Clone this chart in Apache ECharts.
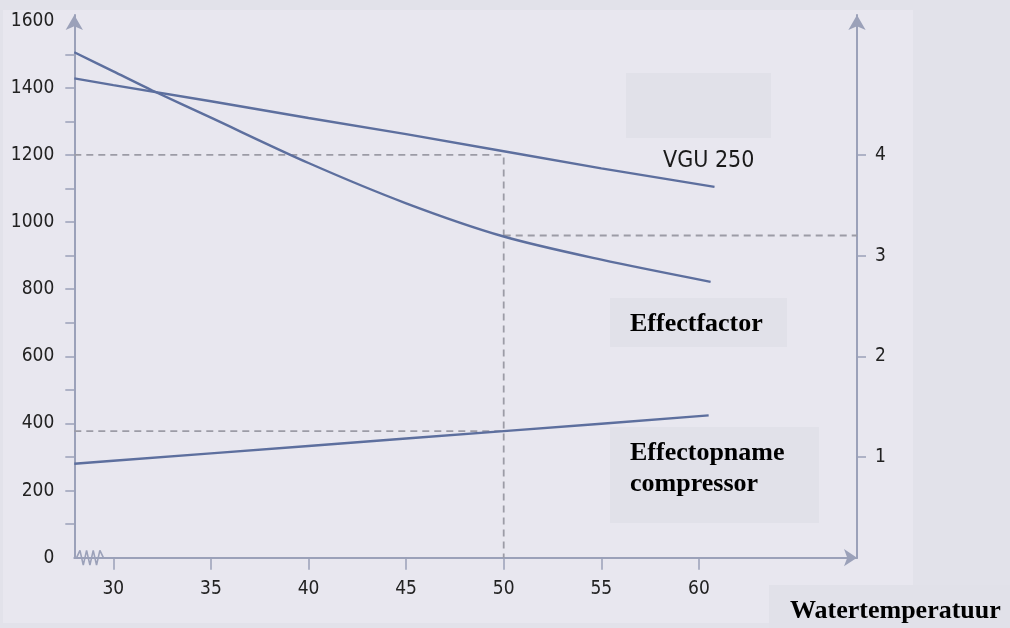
<!DOCTYPE html>
<html>
<head>
<meta charset="utf-8">
<script src="https://cdn.jsdelivr.net/npm/echarts@6/dist/echarts.min.js"></script>
<style>
html,body{margin:0;padding:0;background:#e2e2ea;}
#c{width:1010px;height:628px;}
</style>
</head>
<body>
<div id="c"></div>
<script>
// ---- data ----
var tempVGU = [28, 30, 35, 40, 45, 50, 55, 60.8];
var capacityVGU = [1428, 1408, 1360, 1310, 1262, 1211, 1160, 1105];

var tempCOP = [28, 30, 32, 35, 40, 45, 50, 55, 60.6];
var effectfactor = [5.02, 4.83, 4.64, 4.37, 3.92, 3.52, 3.19, 2.96, 2.74];

var tempPower = [28, 30, 35, 40, 45, 50, 55, 60.5];
var effectopname = [280, 289, 311, 333, 355, 377, 399, 424];

var readTemp = 50;          // reading example
var readCapacity = 1200;
var readPower = 377;
var readCOP = 3.2;

var xTickLabels = [30, 35, 40, 45, 50, 55, 60];
var leftTickLabels = [0, 200, 400, 600, 800, 1000, 1200, 1400, 1600];
var leftMinorTicks = [100, 200, 300, 400, 500, 600, 700, 800, 900, 1000, 1100, 1200, 1300, 1400, 1500];
var rightTickLabels = [1, 2, 3, 4];

// axis-break zigzag (decoration on x axis)
var breakX = [28.12, 28.29, 28.46, 28.63, 28.8, 28.97, 29.14, 29.31, 29.49];
var breakY = [0, 22, -22, 22, -22, 22, -22, 22, 0];

function pairs(xs, ys) { return xs.map(function (x, i) { return [x, ys[i]]; }); }
function plain(v) { return String(v); }

var X_MIN = 28, X_MAX = 68.1;
var Y_MAX = 1617;
var axisColor = '#9ba1b9';
var lineColor = '#5d6f9e';
var dashColor = '#9c9ca6';
var numFont = "'Liberation Sans Narrow', 'DejaVu Sans Condensed', 'Roboto Condensed', sans-serif";
var serif = "'Liberation Serif', 'DejaVu Serif', serif";

var chart = echarts.init(document.getElementById('c'));
chart.setOption({
  backgroundColor: '#e2e2ea',
  animation: false,
  grid: { left: 74.3, top: 15, right: 153, bottom: 70.3, containLabel: false },
  graphic: [
    { type: 'rect', z: -100, silent: true, shape: { x: 3, y: 10, width: 910, height: 613 }, style: { fill: '#e8e7ef' } },
    { type: 'rect', z: -90, silent: true, shape: { x: 626, y: 73, width: 145, height: 65 }, style: { fill: '#e1e1e9' } },
    { type: 'rect', z: -90, silent: true, shape: { x: 610, y: 298, width: 177, height: 49 }, style: { fill: '#e1e1e9' } },
    { type: 'rect', z: -90, silent: true, shape: { x: 610, y: 427, width: 209, height: 96 }, style: { fill: '#e1e1e9' } },
    { type: 'rect', z: -90, silent: true, shape: { x: 769, y: 585, width: 241, height: 43 }, style: { fill: '#e1e1e9' } },
    { type: 'text', z: 50, left: 663, top: 150, style: { text: 'VGU 250', fill: '#1a1a1a', font: "23px " + numFont } },
    { type: 'text', z: 50, left: 630, top: 311, style: { text: 'Effectfactor', fill: '#000', font: "bold 26px " + serif } },
    { type: 'text', z: 50, left: 630, top: 440, style: { text: 'Effectopname', fill: '#000', font: "bold 26px " + serif } },
    { type: 'text', z: 50, left: 630, top: 471, style: { text: 'compressor', fill: '#000', font: "bold 26px " + serif } },
    { type: 'text', z: 50, left: 790, top: 598, style: { text: 'Watertemperatuur', fill: '#000', font: "bold 26px " + serif } }
  ],
  xAxis: {
    type: 'value', min: X_MIN, max: X_MAX,
    axisLine: { show: true, symbol: ['none', 'arrow'], symbolSize: [13, 13], lineStyle: { color: axisColor, width: 2 } },
    axisTick: { show: true, length: 12, customValues: xTickLabels, lineStyle: { color: axisColor, width: 1.5 } },
    axisLabel: { customValues: xTickLabels, formatter: plain, margin: 22, color: '#222', fontSize: 19, fontFamily: numFont },
    splitLine: { show: false }
  },
  yAxis: [
    {
      type: 'value', min: 0, max: Y_MAX, position: 'left',
      axisLine: { show: true, symbol: ['none', 'arrow'], symbolSize: [13, 15], lineStyle: { color: axisColor, width: 2 } },
      axisTick: { show: true, length: 9, customValues: leftMinorTicks, lineStyle: { color: axisColor, width: 1.5 } },
      axisLabel: { customValues: leftTickLabels, formatter: plain, margin: 20, color: '#222', fontSize: 19, fontFamily: numFont },
      splitLine: { show: false }
    },
    {
      type: 'value', min: 0, max: Y_MAX / 300, position: 'right',
      axisLine: { show: true, symbol: ['none', 'arrow'], symbolSize: [13, 15], lineStyle: { color: axisColor, width: 2 } },
      axisTick: { show: true, length: 9, customValues: rightTickLabels, lineStyle: { color: axisColor, width: 1.5 } },
      axisLabel: { customValues: rightTickLabels, formatter: plain, margin: 18, color: '#222', fontSize: 19, fontFamily: numFont },
      splitLine: { show: false }
    }
  ],
  series: [
    {
      name: 'VGU 250', type: 'line', yAxisIndex: 0, showSymbol: false, z: 5,
      data: pairs(tempVGU, capacityVGU),
      lineStyle: { color: lineColor, width: 2.4 }
    },
    {
      name: 'Effectfactor', type: 'line', yAxisIndex: 1, showSymbol: false, smooth: 0.3, z: 5,
      data: pairs(tempCOP, effectfactor),
      lineStyle: { color: lineColor, width: 2.4 }
    },
    {
      name: 'Effectopname compressor', type: 'line', yAxisIndex: 0, showSymbol: false, z: 5,
      data: pairs(tempPower, effectopname),
      lineStyle: { color: lineColor, width: 2.4 }
    },
    {
      name: 'guide capacity', type: 'line', yAxisIndex: 0, showSymbol: false, z: 3,
      data: [[X_MIN, readCapacity], [readTemp, readCapacity], [readTemp, 0]],
      lineStyle: { color: dashColor, width: 1.8, type: [7, 5] }
    },
    {
      name: 'guide power', type: 'line', yAxisIndex: 0, showSymbol: false, z: 3,
      data: [[X_MIN, readPower], [readTemp, readPower]],
      lineStyle: { color: dashColor, width: 1.8, type: [7, 5] }
    },
    {
      name: 'guide cop', type: 'line', yAxisIndex: 1, showSymbol: false, z: 3,
      data: [[readTemp, readCOP], [X_MAX, readCOP]],
      lineStyle: { color: dashColor, width: 1.8, type: [7, 5] }
    },
    {
      name: 'break', type: 'line', yAxisIndex: 0, showSymbol: false, clip: false, z: 4,
      data: pairs(breakX, breakY),
      lineStyle: { color: axisColor, width: 1.6 }
    }
  ]
});
</script>
</body>
</html>
